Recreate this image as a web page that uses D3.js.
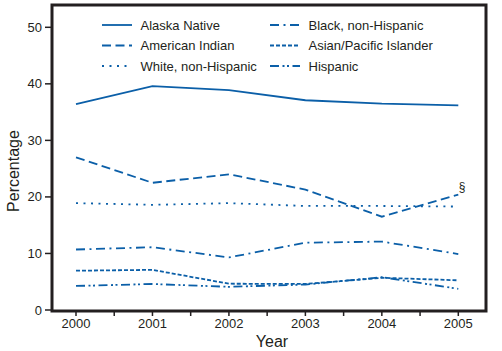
<!DOCTYPE html>
<html>
<head>
<meta charset="utf-8">
<script src="https://cdn.jsdelivr.net/npm/d3@7"></script>
<style>
  body { margin: 0; background: #fff; }
  text { font-family: "Liberation Sans", Arial, sans-serif; fill: #231f20; }
</style>
</head>
<body>
<div id="chart"></div>
<script>
// data
const years = [2000, 2001, 2002, 2003, 2004, 2005];
const yTicks = [0, 10, 20, 30, 40, 50];
const alaskaNative = [36.4, 39.6, 38.9, 37.1, 36.5, 36.2];
const americanIndian = [27.0, 22.5, 24.0, 21.3, 16.5, 20.4];
const whiteNonHispanic = [18.9, 18.6, 18.9, 18.4, 18.4, 18.3];
const blackNonHispanic = [10.7, 11.1, 9.3, 11.9, 12.1, 9.9];
const asianPacific = [6.95, 7.1, 4.65, 4.6, 5.7, 5.25];
const hispanic = [4.25, 4.6, 4.1, 4.5, 5.8, 3.75];

const series = [
  {name: "Alaska Native", values: alaskaNative, dash: null},
  {name: "American Indian", values: americanIndian, dash: "9,4.5"},
  {name: "White, non-Hispanic", values: whiteNonHispanic, dash: "2,5.5"},
  {name: "Black, non-Hispanic", values: blackNonHispanic, dash: "9,4.5,2,4.5"},
  {name: "Asian/Pacific Islander", values: asianPacific, dash: "4,2"},
  {name: "Hispanic", values: hispanic, dash: "9,3.5,2,2.5,2,3.5"}
];

const blue = "#0b5fa8";
const W = 502, H = 351;
const frame = {left: 52, right: 486, top: 5, bottom: 311};

const svg = d3.select("#chart").append("svg")
  .attr("width", W).attr("height", H);

const x = d3.scaleLinear().domain([2000, 2005]).range([76, 458.3]);
const y = d3.scaleLinear().domain([0, 50]).range([310, 27.3]);

// y ticks
const yAxis = svg.append("g");
yAxis.selectAll("line").data(yTicks).join("line")
  .attr("x1", frame.left - 7).attr("x2", frame.left)
  .attr("y1", d => y(d)).attr("y2", d => y(d))
  .attr("stroke", "#231f20").attr("stroke-width", 1.5);
yAxis.selectAll("text").data(yTicks).join("text")
  .attr("x", frame.left - 10).attr("y", d => y(d))
  .attr("dy", "0.35em").attr("text-anchor", "end")
  .attr("font-size", 13).text(d => d);

// x ticks, every half year
const halfTicks = d3.range(2000, 2005.01, 0.5);
svg.append("g").selectAll("line").data(halfTicks).join("line")
  .attr("x1", d => x(d)).attr("x2", d => x(d))
  .attr("y1", frame.bottom).attr("y2", frame.bottom + 5)
  .attr("stroke", "#231f20").attr("stroke-width", 1.5);
svg.append("g").selectAll("text").data(years).join("text")
  .attr("x", d => x(d)).attr("y", 328)
  .attr("text-anchor", "middle").attr("font-size", 13).text(d => d);

svg.append("text").attr("x", 272).attr("y", 347)
  .attr("text-anchor", "middle").attr("font-size", 16).text("Year");
svg.append("text")
  .attr("transform", "translate(19,171) rotate(-90)")
  .attr("text-anchor", "middle").attr("font-size", 16).text("Percentage");

// lines
const line = d3.line()
  .x((d, i) => x(years[i]))
  .y(d => y(d));

svg.append("g").selectAll("path").data(series).join("path")
  .attr("d", d => line(d.values))
  .attr("fill", "none")
  .attr("stroke", blue)
  .attr("stroke-width", 1.8)
  .attr("stroke-dasharray", d => d.dash);

svg.append("text").attr("x", 462).attr("y", 191)
  .attr("text-anchor", "middle").attr("font-size", 12).text("§");

// legend
const legend = svg.append("g");
series.forEach((s, i) => {
  const col = Math.floor(i / 3), row = i % 3;
  const lx = col === 0 ? 102 : 270;
  const ly = 25 + row * 20.5;
  legend.append("line")
    .attr("x1", lx).attr("x2", lx + 30)
    .attr("y1", ly).attr("y2", ly)
    .attr("stroke", blue).attr("stroke-width", 1.8)
    .attr("stroke-dasharray", s.dash);
  legend.append("text")
    .attr("x", lx + 38.5).attr("y", ly).attr("dy", "0.35em")
    .attr("font-size", 13).text(s.name);
});

// frame
svg.append("rect")
  .attr("x", frame.left).attr("y", frame.top)
  .attr("width", frame.right - frame.left).attr("height", frame.bottom - frame.top)
  .attr("fill", "none").attr("stroke", "#231f20").attr("stroke-width", 3);
</script>
</body>
</html>
